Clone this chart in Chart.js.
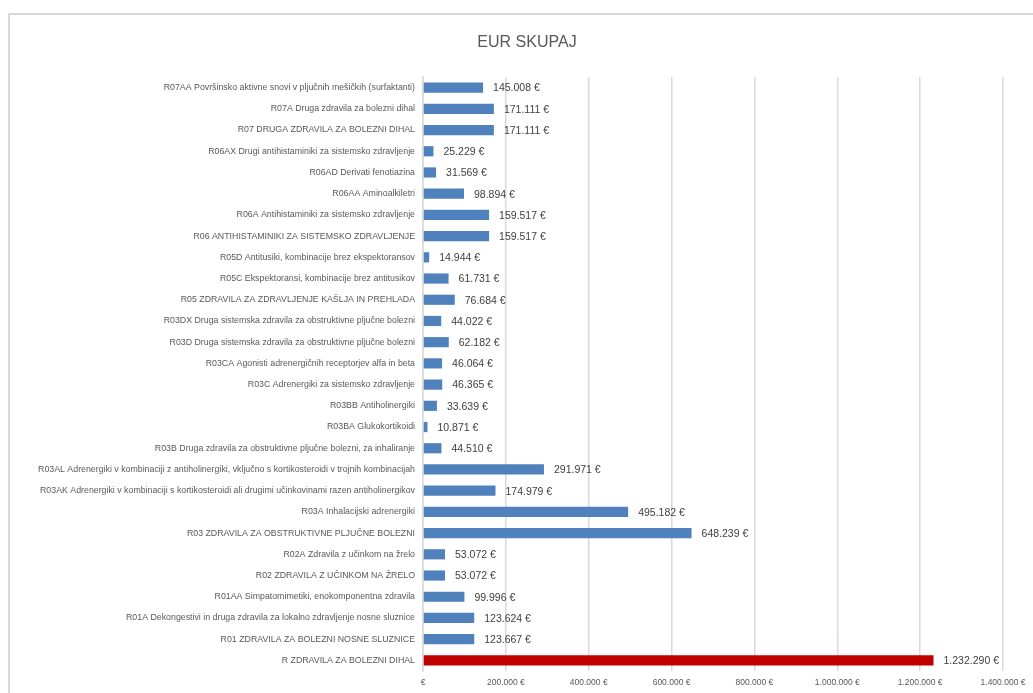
<!DOCTYPE html>
<html>
<head>
<meta charset="utf-8">
<script src="https://cdn.jsdelivr.net/npm/chart.js@4"></script>
<style>
  body { margin: 0; background: #fff; overflow: hidden; }
  #frame { position: absolute; left: 8px; top: 13px; width: 1100px; height: 800px; border: 2px solid #d9d9d9; box-sizing: border-box; }
  #wrap { position: absolute; left: 0; top: 0; width: 1033px; height: 693px; }
</style>
</head>
<body>
<div id="frame"></div>
<div id="wrap"><canvas id="chartSkupaj"></canvas></div>
<script>
// kategorije (od zgoraj navzdol)
const labels = [
  "R07AA Površinsko aktivne snovi v pljučnih mešičkih (surfaktanti)",
  "R07A Druga zdravila za bolezni dihal",
  "R07 DRUGA ZDRAVILA ZA BOLEZNI DIHAL",
  "R06AX Drugi antihistaminiki za sistemsko zdravljenje",
  "R06AD Derivati fenotiazina",
  "R06AA Aminoalkiletri",
  "R06A Antihistaminiki za sistemsko zdravljenje",
  "R06 ANTIHISTAMINIKI ZA SISTEMSKO ZDRAVLJENJE",
  "R05D Antitusiki, kombinacije brez ekspektoransov",
  "R05C Ekspektoransi, kombinacije brez antitusikov",
  "R05 ZDRAVILA ZA ZDRAVLJENJE KAŠLJA IN PREHLADA",
  "R03DX Druga sistemska zdravila za obstruktivne pljučne bolezni",
  "R03D Druga sistemska zdravila za obstruktivne pljučne bolezni",
  "R03CA Agonisti adrenergičnih receptorjev alfa in beta",
  "R03C Adrenergiki za sistemsko zdravljenje",
  "R03BB Antiholinergiki",
  "R03BA Glukokortikoidi",
  "R03B Druga zdravila za obstruktivne pljučne bolezni, za inhaliranje",
  "R03AL Adrenergiki v kombinaciji z antiholinergiki, vključno s kortikosteroidi v trojnih kombinacijah",
  "R03AK Adrenergiki v kombinaciji s kortikosteroidi ali drugimi učinkovinami razen antiholinergikov",
  "R03A Inhalacijski adrenergiki",
  "R03 ZDRAVILA ZA OBSTRUKTIVNE PLJUČNE BOLEZNI",
  "R02A Zdravila z učinkom na žrelo",
  "R02 ZDRAVILA Z UČINKOM NA ŽRELO",
  "R01AA Simpatomimetiki, enokomponentna zdravila",
  "R01A Dekongestivi in druga zdravila za lokalno zdravljenje nosne sluznice",
  "R01 ZDRAVILA ZA BOLEZNI NOSNE SLUZNICE",
  "R ZDRAVILA ZA BOLEZNI DIHAL"
];

// EUR skupaj
const eurSkupaj = [
  145008, 171111, 171111, 25229, 31569, 98894, 159517, 159517,
  14944, 61731, 76684, 44022, 62182, 46064, 46365, 33639, 10871,
  44510, 291971, 174979, 495182, 648239, 53072, 53072, 99996,
  123624, 123667, 1232290
];

// os x
const xTicks = [0, 200000, 400000, 600000, 800000, 1000000, 1200000, 1400000];

const font = "'Liberation Sans', Arial, sans-serif";

function fmt(n) {
  return String(Math.round(n)).replace(/\B(?=(\d{3})+(?!\d))/g, ".");
}

const barColors = labels.map(l => l.startsWith("R ") ? "#c00000" : "#4f81bd");

// naslov in oznake vrednosti
const extras = {
  id: "extras",
  afterDatasetsDraw(chart) {
    const ctx = chart.ctx;
    const meta = chart.getDatasetMeta(0);
    ctx.save();
    ctx.font = "10.5px " + font;
    ctx.fillStyle = "#404040";
    ctx.textBaseline = "middle";
    ctx.textAlign = "left";
    meta.data.forEach((bar, i) => {
      ctx.fillText(fmt(eurSkupaj[i]) + " €", bar.x + 10, bar.y + 1);
    });
    // naslov
    ctx.font = "16px " + font;
    ctx.fillStyle = "#595959";
    ctx.textAlign = "center";
    ctx.fillText("EUR SKUPAJ", 527, 43);
    ctx.restore();
  }
};

new Chart(document.getElementById("chartSkupaj"), {
  type: "bar",
  data: {
    labels,
    datasets: [{
      data: eurSkupaj,
      backgroundColor: barColors,
      borderWidth: 0,
      barPercentage: 0.48,
      categoryPercentage: 1
    }]
  },
  options: {
    indexAxis: "y",
    responsive: true,
    maintainAspectRatio: false,
    animation: false,
    layout: { padding: { left: 15, right: 30, top: 77, bottom: 0 } },
    plugins: {
      legend: { display: false },
      tooltip: { enabled: false },
      title: { display: false }
    },
    scales: {
      x: {
        min: 0,
        max: 1400000,
        afterBuildTicks: scale => { scale.ticks = xTicks.map(v => ({ value: v })); },
        afterFit: scale => { scale.height = 22; },
        grid: { color: "#d9d9d9", lineWidth: 1.5, drawTicks: false },
        border: { display: false },
        ticks: {
          padding: 7,
          color: "#595959",
          font: { family: font, size: 8.5 },
          maxRotation: 0,
          callback: v => v === 0 ? "€" : fmt(v) + " €"
        }
      },
      y: {
        afterFit: scale => { scale.width = 408; },
        grid: { display: false, drawTicks: false },
        border: { display: true, color: "#d9d9d9", width: 1.5 },
        ticks: {
          padding: 8,
          autoSkip: false,
          color: "#595959",
          font: { family: font, size: 8.8 }
        }
      }
    }
  },
  plugins: [extras]
});
</script>
</body>
</html>
